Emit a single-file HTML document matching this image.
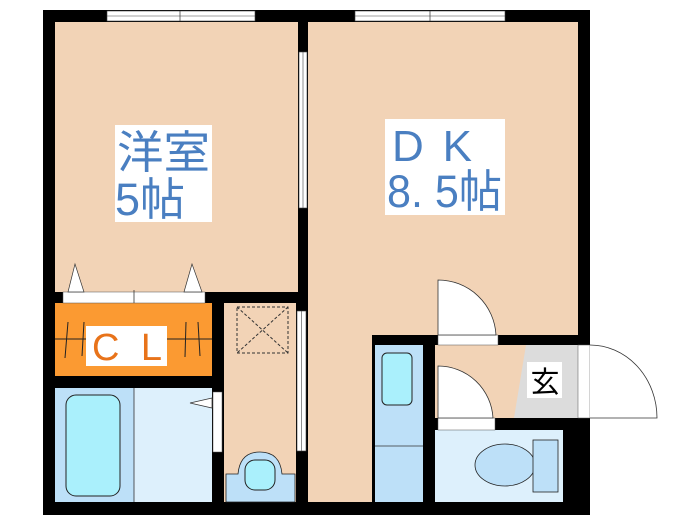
<!DOCTYPE html>
<html><head><meta charset="utf-8"><style>
html,body{margin:0;padding:0;background:#fff;}
svg{display:block;}
text{font-family:"Liberation Sans","Noto Sans CJK JP",sans-serif;}
</style></head><body>
<svg width="700" height="525" viewBox="0 0 700 525" xmlns="http://www.w3.org/2000/svg">
<rect width="700" height="525" fill="#fff"/>
<path d="M43 10 H590 V515 H43 Z" fill="#000"/>
<rect x="55" y="22" width="243" height="270" fill="#f2d3b6"/>
<rect x="308" y="22" width="270" height="313" fill="#f2d3b6"/>
<rect x="308" y="335" width="64" height="167" fill="#f2d3b6"/>
<rect x="224" y="303" width="72" height="199" fill="#f2d3b6"/>
<rect x="55" y="303" width="157" height="73" fill="#fb9a32"/>
<rect x="55" y="388" width="79" height="114" fill="#bde0f8"/>
<rect x="134" y="388" width="78" height="114" fill="#ddf0fc"/>
<line x1="134" y1="388" x2="134" y2="502" stroke="#333" stroke-width="0.8"/>
<rect x="66" y="395" width="54" height="101" rx="10" fill="#aaf0fc" stroke="#222" stroke-width="1"/>
<rect x="213" y="392" width="9" height="60" fill="#fff" stroke="#555" stroke-width="0.5"/>
<path d="M212 398 L190 403 L212 408 Z" fill="#fff" stroke="#333" stroke-width="0.7"/>
<rect x="237" y="307" width="51" height="46" fill="none" stroke="#333" stroke-width="1" stroke-dasharray="3,2"/>
<line x1="237" y1="307" x2="288" y2="353" stroke="#333" stroke-width="1" stroke-dasharray="3,2"/>
<line x1="288" y1="307" x2="237" y2="353" stroke="#333" stroke-width="1" stroke-dasharray="3,2"/>
<path d="M226 474 H238 Q240 452 260 452 Q280 452 282 474 H295 V502 H226 Z" fill="#bde0f8" stroke="#222" stroke-width="0.8"/>
<rect x="245" y="460" width="30" height="30" rx="10" fill="#aaf0fc" stroke="#222" stroke-width="1"/>
<rect x="297" y="311" width="9" height="140" fill="#fff" stroke="#444" stroke-width="0.6"/>
<line x1="301.5" y1="311" x2="301.5" y2="451" stroke="#444" stroke-width="0.6"/>
<rect x="299" y="52" width="8" height="156" fill="#fff" stroke="#444" stroke-width="0.6"/>
<line x1="303" y1="52" x2="303" y2="208" stroke="#444" stroke-width="0.6"/>
<rect x="107" y="11" width="148" height="10" fill="#fff" stroke="#444" stroke-width="0.6"/>
<line x1="107" y1="16" x2="255" y2="16" stroke="#444" stroke-width="0.6"/>
<line x1="180" y1="11" x2="180" y2="21" stroke="#444" stroke-width="0.8"/>
<rect x="355" y="11" width="150" height="10" fill="#fff" stroke="#444" stroke-width="0.6"/>
<line x1="355" y1="16" x2="505" y2="16" stroke="#444" stroke-width="0.6"/>
<line x1="430" y1="11" x2="430" y2="21" stroke="#444" stroke-width="0.8"/>
<rect x="63" y="292" width="142" height="11" fill="#fff" stroke="#555" stroke-width="0.5"/>
<line x1="134" y1="290" x2="134" y2="303" stroke="#333" stroke-width="0.8"/>
<path d="M68 292 L75 264 L84 292 Z" fill="#fff" stroke="#333" stroke-width="0.7"/>
<path d="M184 292 L192 264 L202 292 Z" fill="#fff" stroke="#333" stroke-width="0.7"/>
<g stroke="#222" stroke-width="1">
<line x1="55" y1="339" x2="212" y2="339"/>
<line x1="65" y1="358" x2="68" y2="322"/><line x1="82" y1="356" x2="84" y2="322"/>
<line x1="185" y1="357" x2="186" y2="322"/><line x1="200" y1="356" x2="198" y2="322"/>
</g>
<rect x="86" y="326" width="81" height="40" fill="#fff"/>
<text x="92" y="360" font-size="38" fill="#e8731a" textLength="70" lengthAdjust="spacing">C L</text>
<rect x="375" y="345" width="48" height="157" fill="#bde0f8"/>
<line x1="375" y1="446" x2="423" y2="446" stroke="#333" stroke-width="0.8"/>
<rect x="382" y="353" width="30" height="52" rx="5" fill="#aaf0fc" stroke="#222" stroke-width="1"/>
<rect x="435" y="345" width="143" height="73" fill="#f2d3b6"/>
<path d="M526 345 H578 V418 H514 Z" fill="#dcdcdc"/>
<rect x="527" y="362" width="35" height="36" fill="#fff"/>
<text x="545" y="392" font-size="29" fill="#000" text-anchor="middle">玄</text>
<rect x="435" y="430" width="128" height="72" fill="#ddf0fc"/>
<ellipse cx="505" cy="465" rx="30" ry="21" fill="#bde0f8" stroke="#222" stroke-width="0.8"/>
<rect x="533" y="440" width="25" height="52" fill="#bde0f8" stroke="#222" stroke-width="0.8"/>
<rect x="438" y="335" width="60" height="10" fill="#fff" stroke="#555" stroke-width="0.5"/>
<path d="M438 335 V280 A58 58 0 0 1 496 335 Z" fill="#fff" stroke="#333" stroke-width="0.8"/>
<rect x="438" y="418" width="57" height="12" fill="#fff" stroke="#555" stroke-width="0.5"/>
<path d="M438 418 V366 A55 55 0 0 1 493 418 Z" fill="#fff" stroke="#333" stroke-width="0.8"/>
<rect x="578" y="345" width="12" height="73" fill="#fff" stroke="#555" stroke-width="0.5"/>
<path d="M590 418 H657 A67 73 0 0 0 590 345" fill="#fff" stroke="#333" stroke-width="0.8"/>
<rect x="115" y="125" width="97" height="97" fill="#fff"/>
<text x="117" y="168" font-size="45" fill="#4a7fc1" textLength="93" lengthAdjust="spacingAndGlyphs">洋室</text>
<text x="115" y="215" font-size="45" fill="#4a7fc1" textLength="70" lengthAdjust="spacingAndGlyphs">5帖</text>
<rect x="385" y="119" width="120" height="96" fill="#fff"/>
<text x="392" y="161" font-size="44" fill="#4a7fc1" textLength="80" lengthAdjust="spacing">D K</text>
<text x="387" y="207" font-size="45" fill="#4a7fc1" textLength="115" lengthAdjust="spacingAndGlyphs">8. 5帖</text>
</svg>
</body></html>
